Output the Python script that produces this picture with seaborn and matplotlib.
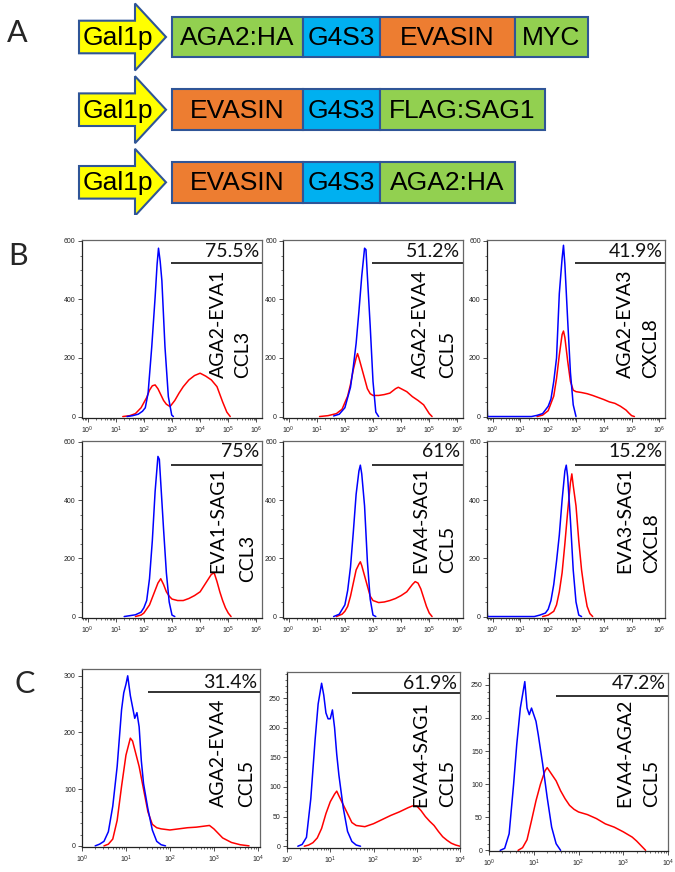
import numpy as np
import pandas as pd
import matplotlib
matplotlib.use("Agg")
import matplotlib.pyplot as plt
import seaborn as sns
from matplotlib.patches import Polygon
from matplotlib.ticker import MultipleLocator, LogLocator, NullFormatter

sns.set_theme(style="ticks")
plt.rcParams['font.family'] = ['Liberation Sans', 'DejaVu Sans']
plt.rcParams['mathtext.default'] = 'regular'

# ---------------- Panel A : constructs ----------------
row1_labels = ["AGA2:HA", "G4S3", "EVASIN", "MYC"]
row1_widths = [131, 77, 135, 73]
row1_colors = ["#92D050", "#00B0F0", "#ED7D31", "#92D050"]
row2_labels = ["EVASIN", "G4S3", "FLAG:SAG1"]
row2_widths = [131, 77, 165]
row2_colors = ["#ED7D31", "#00B0F0", "#92D050"]
row3_labels = ["EVASIN", "G4S3", "AGA2:HA"]
row3_widths = [131, 77, 135]
row3_colors = ["#ED7D31", "#00B0F0", "#92D050"]
promoter = "Gal1p"

# ---------------- Panel B : histograms (x = log10 fluorescence) ----------------
# row 1
b11_blue_x = [1.4, 1.6, 1.8, 1.95, 2.05, 2.15, 2.28, 2.4, 2.47, 2.52, 2.58, 2.64, 2.75, 2.87, 2.99, 3.05]
b11_blue_y = [0, 3, 8, 18, 30, 80, 238, 408, 520, 575, 530, 464, 238, 68, 5, 0]
b11_red_x = [1.25, 1.5, 1.7, 1.9, 2.1, 2.2, 2.3, 2.4, 2.5, 2.6, 2.7, 2.8, 2.93, 3.1, 3.25, 3.4, 3.6, 3.8, 4.0, 4.2, 4.4, 4.6, 4.8, 4.95, 5.07]
b11_red_y = [0, 3, 10, 30, 65, 90, 105, 108, 95, 75, 55, 42, 34, 55, 80, 102, 125, 140, 148, 138, 125, 102, 50, 15, 0]

b12_blue_x = [1.6, 1.8, 2.0, 2.2, 2.3, 2.4, 2.5, 2.6, 2.7, 2.75, 2.8, 2.9, 3.0, 3.1, 3.2]
b12_blue_y = [2, 8, 30, 100, 170, 250, 360, 480, 575, 570, 480, 310, 120, 15, 0]
b12_red_x = [1.1, 1.4, 1.7, 1.9, 2.1, 2.2, 2.3, 2.4, 2.45, 2.5, 2.6, 2.7, 2.8, 2.9, 3.0, 3.2, 3.4, 3.6, 3.8, 3.9, 4.0, 4.2, 4.4, 4.6, 4.8, 4.9, 5.0, 5.1]
b12_red_y = [0, 3, 10, 25, 70, 110, 160, 200, 215, 200, 165, 130, 95, 78, 72, 72, 75, 80, 95, 100, 95, 85, 68, 55, 40, 25, 10, 0]

b13_blue_x = [-0.2, -0.18, 1.4, 1.6, 1.8, 2.0, 2.1, 2.2, 2.3, 2.4, 2.5, 2.55, 2.6, 2.7, 2.8, 2.9, 3.0]
b13_blue_y = [45, 0, 0, 4, 10, 35, 60, 120, 200, 420, 540, 585, 520, 330, 150, 40, 0]
b13_red_x = [1.6, 1.8, 2.0, 2.2, 2.3, 2.4, 2.5, 2.55, 2.6, 2.7, 2.8, 2.9, 3.0, 3.2, 3.4, 3.6, 3.8, 4.0, 4.2, 4.4, 4.6, 4.8, 4.9, 5.0, 5.1]
b13_red_y = [0, 5, 20, 70, 130, 210, 280, 292, 270, 190, 120, 90, 85, 82, 78, 72, 65, 58, 50, 45, 35, 22, 12, 3, 0]

# row 2
b21_blue_x = [1.3, 1.5, 1.7, 1.9, 2.0, 2.1, 2.2, 2.3, 2.4, 2.5, 2.55, 2.6, 2.7, 2.8, 2.9, 3.0, 3.1]
b21_blue_y = [0, 3, 6, 15, 30, 55, 130, 260, 430, 550, 540, 460, 300, 150, 50, 5, 0]
b21_red_x = [1.7, 1.9, 2.0, 2.2, 2.4, 2.5, 2.6, 2.7, 2.8, 2.9, 3.0, 3.2, 3.4, 3.6, 3.8, 4.0, 4.2, 4.3, 4.4, 4.5, 4.6, 4.7, 4.8, 4.9, 5.0, 5.1]
b21_red_y = [0, 5, 12, 40, 90, 115, 130, 110, 85, 70, 60, 55, 55, 62, 72, 85, 115, 130, 145, 150, 120, 85, 55, 30, 12, 0]

b22_blue_x = [1.6, 1.8, 2.0, 2.1, 2.2, 2.3, 2.4, 2.5, 2.55, 2.6, 2.7, 2.8, 2.9, 3.0, 3.1]
b22_blue_y = [0, 8, 40, 90, 170, 290, 420, 500, 520, 490, 380, 190, 60, 5, 0]
b22_red_x = [1.7, 1.9, 2.0, 2.1, 2.2, 2.3, 2.4, 2.5, 2.55, 2.6, 2.7, 2.8, 2.9, 3.0, 3.2, 3.4, 3.6, 3.8, 4.0, 4.2, 4.4, 4.5, 4.6, 4.7, 4.8, 4.9, 5.0, 5.1]
b22_red_y = [0, 8, 18, 35, 70, 115, 160, 180, 188, 175, 140, 105, 70, 55, 48, 50, 55, 62, 72, 85, 110, 120, 115, 95, 65, 35, 12, 0]

b23_blue_x = [-0.2, -0.18, 1.5, 1.7, 1.9, 2.0, 2.1, 2.2, 2.3, 2.4, 2.5, 2.6, 2.65, 2.7, 2.8, 2.9, 3.0, 3.1, 3.2]
b23_blue_y = [30, 0, 0, 5, 12, 25, 55, 110, 190, 280, 400, 500, 520, 480, 330, 160, 50, 5, 0]
b23_red_x = [1.8, 2.0, 2.2, 2.3, 2.4, 2.5, 2.6, 2.7, 2.8, 2.85, 2.9, 3.0, 3.1, 3.2, 3.3, 3.4, 3.5, 3.6]
b23_red_y = [0, 5, 18, 40, 85, 150, 250, 360, 460, 490, 450, 380, 260, 160, 90, 35, 10, 0]

# ---------------- Panel C ----------------
c1_blue_x = [0.3, 0.4, 0.5, 0.6, 0.7, 0.8, 0.85, 0.9, 0.95, 1.0, 1.04, 1.1, 1.15, 1.2, 1.25, 1.3, 1.35, 1.4, 1.5, 1.6, 1.7, 1.8, 1.9]
c1_blue_y = [0, 3, 8, 25, 70, 140, 190, 240, 270, 285, 300, 265, 245, 225, 235, 210, 150, 110, 65, 28, 8, 2, 0]
c1_red_x = [0.5, 0.6, 0.7, 0.8, 0.9, 1.0, 1.05, 1.1, 1.15, 1.2, 1.3, 1.4, 1.5, 1.6, 1.7, 1.8, 2.0, 2.2, 2.4, 2.6, 2.8, 2.9, 3.0, 3.1, 3.2, 3.4, 3.6, 3.8]
c1_red_y = [0, 3, 12, 45, 105, 160, 175, 190, 185, 170, 140, 100, 60, 38, 32, 30, 28, 30, 32, 33, 35, 36, 30, 22, 14, 6, 2, 0]

c2_blue_x = [0.25, 0.35, 0.45, 0.55, 0.65, 0.72, 0.8, 0.85, 0.9, 0.95, 1.0, 1.05, 1.1, 1.15, 1.2, 1.3, 1.4, 1.5, 1.6, 1.7]
c2_blue_y = [0, 3, 15, 80, 180, 240, 275, 255, 225, 215, 215, 230, 200, 155, 120, 65, 25, 8, 2, 0]
c2_red_x = [0.4, 0.5, 0.6, 0.7, 0.8, 0.9, 1.0, 1.1, 1.15, 1.2, 1.3, 1.4, 1.5, 1.6, 1.8, 2.0, 2.2, 2.4, 2.6, 2.8, 2.9, 3.0, 3.1, 3.2, 3.3, 3.4, 3.5, 3.6, 3.7, 3.8, 3.9, 4.0]
c2_red_y = [0, 2, 6, 14, 30, 55, 75, 88, 93, 85, 70, 55, 40, 35, 33, 38, 45, 52, 58, 65, 68, 68, 60, 50, 42, 35, 25, 16, 10, 5, 2, 0]

c3_blue_x = [0.25, 0.35, 0.45, 0.55, 0.62, 0.7, 0.75, 0.8, 0.85, 0.9, 0.95, 1.0, 1.05, 1.1, 1.2, 1.3, 1.4, 1.5, 1.6]
c3_blue_y = [0, 3, 25, 100, 160, 215, 235, 255, 215, 205, 215, 205, 195, 175, 130, 80, 35, 10, 0]
c3_red_x = [0.65, 0.75, 0.85, 0.95, 1.05, 1.15, 1.25, 1.3, 1.4, 1.5, 1.6, 1.7, 1.8, 1.9, 2.0, 2.2, 2.4, 2.6, 2.8, 3.0, 3.2, 3.3, 3.4, 3.5]
c3_red_y = [0, 4, 16, 45, 75, 100, 120, 125, 115, 105, 90, 78, 68, 62, 58, 54, 48, 40, 35, 28, 20, 14, 7, 0]

b_percent = ["75.5%", "51.2%", "41.9%", "75%", "61%", "15.2%"]
b_label1 = ["AGA2-EVA1", "AGA2-EVA4", "AGA2-EVA3", "EVA1-SAG1", "EVA4-SAG1", "EVA3-SAG1"]
b_label2 = ["CCL3", "CCL5", "CXCL8", "CCL3", "CCL5", "CXCL8"]
b_xtick_exp = [0, 1, 2, 3, 4, 5, 6]
b_yticks = [0, 200, 400, 600]

c_percent = ["31.4%", "61.9%", "47.2%"]
c_label1 = ["AGA2-EVA4", "EVA4-SAG1", "EVA4-AGA2"]
c_label2 = ["CCL5", "CCL5", "CCL5"]
c_xtick_exp = [0, 1, 2, 3, 4]
c1_yticks = [0, 100, 200, 300]
c2_yticks = [0, 50, 100, 150, 200, 250]
c3_yticks = [0, 50, 100, 150, 200, 250]

b_gate_start = 2.95
c_gate_start = 1.5

# ---------------- figure ----------------
W, H = 675, 872
fig = plt.figure(figsize=(W / 100, H / 100), dpi=100)


def px_axes(l, t, r, b):
    return fig.add_axes([l / W, 1 - b / H, (r - l) / W, (b - t) / H])


LATO = ['Lato', 'DejaVu Sans']

# ----- Panel A -----
axA = px_axes(0, 0, W, 215)
axA.set_xlim(0, W)
axA.set_ylim(215, 0)
axA.axis('off')
edge = "#2F5597"
row_centers = [37, 109.7, 182.3]
rows = [(row1_labels, row1_widths, row1_colors),
        (row2_labels, row2_widths, row2_colors),
        (row3_labels, row3_widths, row3_colors)]
for c, (labs, wids, cols) in zip(row_centers, rows):
    lefts = 172 + np.concatenate([[0], np.cumsum(wids)[:-1]])
    axA.barh(y=[c] * len(wids), width=wids, left=lefts, height=40.6,
             color=cols, edgecolor=edge, linewidth=1.5)
    for lft, w, lab in zip(lefts, wids, labs):
        axA.text(lft + w / 2, c + 1, lab, ha='center', va='center', fontsize=19,
                 color='black')
    arrow = Polygon([(79, c - 16.3), (135, c - 16.3), (135, c - 33.5), (166, c),
                     (135, c + 33.5), (135, c + 16.3), (79, c + 16.3)],
                    closed=True, facecolor="#FFFF00", edgecolor=edge, linewidth=1.5)
    axA.add_patch(arrow)
    axA.text(118, c + 1, promoter, ha='center', va='center', fontsize=19, color='black')


# ----- histogram panel -----
def hist_panel(rect, bx, by, rx, ry, xl, yl, yticks, yminor, xexp, pct, pct_y,
               gate_start, gate_y, lab1, lab2, l1pos, l2pos):
    ax = px_axes(*rect)
    df_r = pd.DataFrame({'x': 10 ** np.asarray(rx, float), 'count': ry})
    df_b = pd.DataFrame({'x': 10 ** np.asarray(bx, float), 'count': by})
    sns.lineplot(data=df_r, x='x', y='count', ax=ax, color='#FF0000', lw=1.1, sort=False)
    sns.lineplot(data=df_b, x='x', y='count', ax=ax, color='#0000FF', lw=1.1, sort=False)
    ax.set_xscale('log')
    ax.set_xlim(10 ** xl[0], 10 ** xl[1])
    ax.set_ylim(*yl)
    ax.set_xticks([10.0 ** k for k in xexp])
    ax.set_xticklabels([f'$10^{{{k}}}$' for k in xexp])
    ax.xaxis.set_minor_locator(LogLocator(base=10, subs=np.arange(2, 10), numticks=30))
    ax.xaxis.set_minor_formatter(NullFormatter())
    ax.set_yticks(yticks)
    ax.yaxis.set_minor_locator(MultipleLocator(yminor))
    ax.tick_params(which='major', length=3, width=0.6, labelsize=5, pad=1.5,
                   direction='out', color='#333333', labelcolor='#222222')
    ax.tick_params(which='minor', length=1.6, width=0.5, color='#333333')
    ax.set_xlabel('')
    ax.set_ylabel('')
    for s in ['left', 'bottom']:
        ax.spines[s].set_color('#222222')
        ax.spines[s].set_linewidth(0.9)
    for s in ['top', 'right']:
        ax.spines[s].set_color('#666666')
        ax.spines[s].set_linewidth(0.9)
        ax.spines[s].set_visible(True)
    ax.plot([10 ** gate_start, 10 ** xl[1]], [gate_y, gate_y], color='#222222', lw=1.3,
            transform=ax.get_xaxis_transform(), solid_capstyle='butt')
    ax.text(0.985, pct_y, pct, transform=ax.transAxes, ha='right', va='baseline',
            fontsize=14, family=LATO, color='#111111')
    ax.text(l1pos[0], l1pos[1], lab1, transform=ax.transAxes, rotation=90,
            ha='center', va='bottom', fontsize=14, family=LATO, color='black')
    ax.text(l2pos[0], l2pos[1], lab2, transform=ax.transAxes, rotation=90,
            ha='center', va='bottom', fontsize=14, family=LATO, color='black')
    return ax


b_rects = [(82, 240, 262, 418), (283, 240, 463, 418), (487, 240, 665, 418),
           (82, 441, 262, 618), (283, 441, 463, 618), (487, 441, 665, 618)]
b_curves = [(b11_blue_x, b11_blue_y, b11_red_x, b11_red_y),
            (b12_blue_x, b12_blue_y, b12_red_x, b12_red_y),
            (b13_blue_x, b13_blue_y, b13_red_x, b13_red_y),
            (b21_blue_x, b21_blue_y, b21_red_x, b21_red_y),
            (b22_blue_x, b22_blue_y, b22_red_x, b22_red_y),
            (b23_blue_x, b23_blue_y, b23_red_x, b23_red_y)]
b_l1pos = [(0.76, 0.225), (0.764, 0.225), (0.775, 0.225), (0.755, 0.254), (0.767, 0.254), (0.772, 0.254)]
b_l2pos = [(0.895, 0.225), (0.914, 0.225), (0.92, 0.225), (0.92, 0.205), (0.917, 0.254), (0.924, 0.254)]
b_pcty = [0.904, 0.904, 0.904, 0.911, 0.911, 0.911]
b_gatey = [0.869, 0.869, 0.869, 0.864, 0.864, 0.864]
for i in range(6):
    bx, by, rx, ry = b_curves[i]
    hist_panel(b_rects[i], bx, by, rx, ry, (-0.2, 6.2), (-5, 603), b_yticks, 50, b_xtick_exp,
               b_percent[i], b_pcty[i], b_gate_start, b_gatey[i], b_label1[i], b_label2[i],
               b_l1pos[i], b_l2pos[i])

c_rects = [(82, 669, 260, 847), (287, 672, 460, 848), (489, 673, 668, 851)]
c_curves = [(c1_blue_x, c1_blue_y, c1_red_x, c1_red_y),
            (c2_blue_x, c2_blue_y, c2_red_x, c2_red_y),
            (c3_blue_x, c3_blue_y, c3_red_x, c3_red_y)]
c_ylims = [(-2, 312), (-3, 294), (-1, 268)]
c_yt = [c1_yticks, c2_yticks, c3_yticks]
c_ymin = [20, 10, 10]
c_xl = [(0, 4.05), (0, 4.0), (0, 4.0)]
c_l1pos = [(0.767, 0.226), (0.775, 0.235), (0.758, 0.249)]
c_l2pos = [(0.924, 0.226), (0.93, 0.235), (0.911, 0.249)]
c_pcty = [0.893, 0.903, 0.91]
c_gatey = [0.872, 0.879, 0.87]
for i in range(3):
    bx, by, rx, ry = c_curves[i]
    hist_panel(c_rects[i], bx, by, rx, ry, c_xl[i], c_ylims[i], c_yt[i], c_ymin[i], c_xtick_exp,
               c_percent[i], c_pcty[i], c_gate_start, c_gatey[i], c_label1[i], c_label2[i],
               c_l1pos[i], c_l2pos[i])

# panel letters
fig.text(7 / W, 1 - 42 / H, "A", fontsize=22, family=LATO, ha='left', va='baseline')
fig.text(8 / W, 1 - 265 / H, "B", fontsize=22, family=LATO, ha='left', va='baseline')
fig.text(15 / W, 1 - 693 / H, "C", fontsize=22, family=LATO, ha='left', va='baseline')

fig.savefig("out.png", dpi=100)
